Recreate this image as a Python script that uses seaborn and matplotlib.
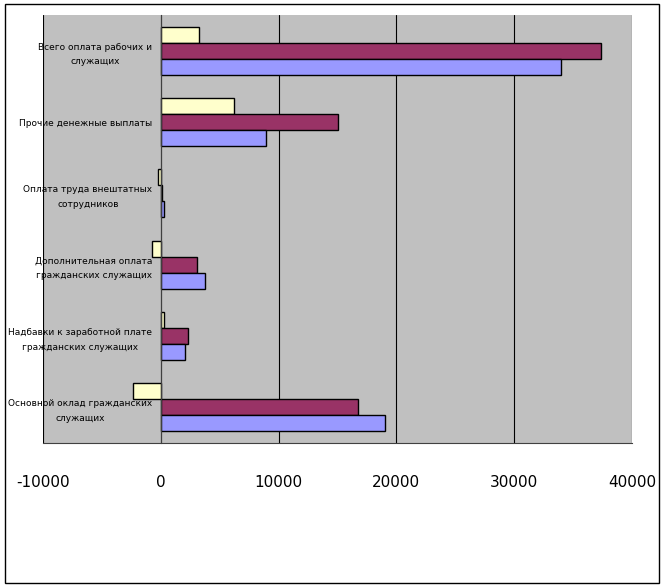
import numpy as np
import pandas as pd
import seaborn as sns
import matplotlib.pyplot as plt
from matplotlib.patches import Rectangle

# categories, top to bottom as drawn
categories = ['Всего оплата рабочих и\nслужащих',
              'Прочие денежные выплаты',
              'Оплата труда внештатных\nсотрудников',
              'Дополнительная оплата\nгражданских служащих',
              'Надбавки к заработной плате\nгражданских служащих',
              'Основной оклад гражданских\nслужащих']

# three series (no legend in the original)
series_names = ['Ряд3', 'Ряд2', 'Ряд1']
ryad3 = [3250, 6250, -230, -740, 280, -2350]
ryad2 = [37330, 15080, 140, 3080, 2350, 16780]
ryad1 = [33980, 8970, 280, 3790, 2090, 19070]
colors = ['#FFFFCC', '#993366', '#9999FF']

df = pd.DataFrame({
    'cat': categories * 3,
    'series': [series_names[0]] * 6 + [series_names[1]] * 6 + [series_names[2]] * 6,
    'value': ryad3 + ryad2 + ryad1,
})

sns.set_style('white')
plt.rcParams['font.family'] = ['DejaVu Sans']
plt.rcParams['axes.unicode_minus'] = False
plt.rcParams['xtick.color'] = 'black'
plt.rcParams['ytick.color'] = 'black'
plt.rcParams['text.color'] = 'black'

fig = plt.figure(figsize=(6.66, 5.87), dpi=100)
ax = fig.add_axes([43 / 666, 1 - 443 / 587, (632 - 43) / 666, (443 - 15) / 587])

sns.barplot(data=df, y='cat', x='value', hue='series', hue_order=series_names,
            order=categories, palette=colors, orient='h', width=0.67,
            edgecolor='black', linewidth=1, saturation=1, legend=False, ax=ax)

ax.set_facecolor('#C0C0C0')
ax.set_xlim(-10000, 40000)
ax.set_ylim(5.5, -0.5)
ax.set_xticks(range(-10000, 40001, 10000))
ax.grid(axis='x', color='black', lw=0.8)
ax.grid(axis='y', visible=False)
ax.set_axisbelow(True)
ax.axvline(-10000, color='#808080', lw=1.5, zorder=0.5)

ax.spines['left'].set_position(('data', 0))
ax.spines['left'].set_color('#404040')
ax.spines['top'].set_visible(False)
ax.spines['right'].set_visible(False)
ax.spines['bottom'].set_color('#404040')

ax.set_xlabel('')
ax.set_ylabel('')
ax.set_yticks(np.arange(0.5, 5, 1), minor=True)
ax.tick_params(axis='y', which='major', length=0, pad=6)
ax.tick_params(axis='y', which='minor', length=3, direction='out', color='#404040')
ax.tick_params(axis='x', length=5, direction='out', pad=18, labelsize=11,
               color='#404040', labelcolor='black')
ax.set_yticks(range(len(categories)))
ax.set_yticklabels(categories, fontsize=6.5, ha='right', multialignment='center',
                   linespacing=1.8, color='black')

fig.add_artist(Rectangle((5 / 666, 4 / 587), 654 / 666, 579 / 587,
                         transform=fig.transFigure, fill=False, ec='black', lw=1))

fig.savefig('out.png', dpi=100)
